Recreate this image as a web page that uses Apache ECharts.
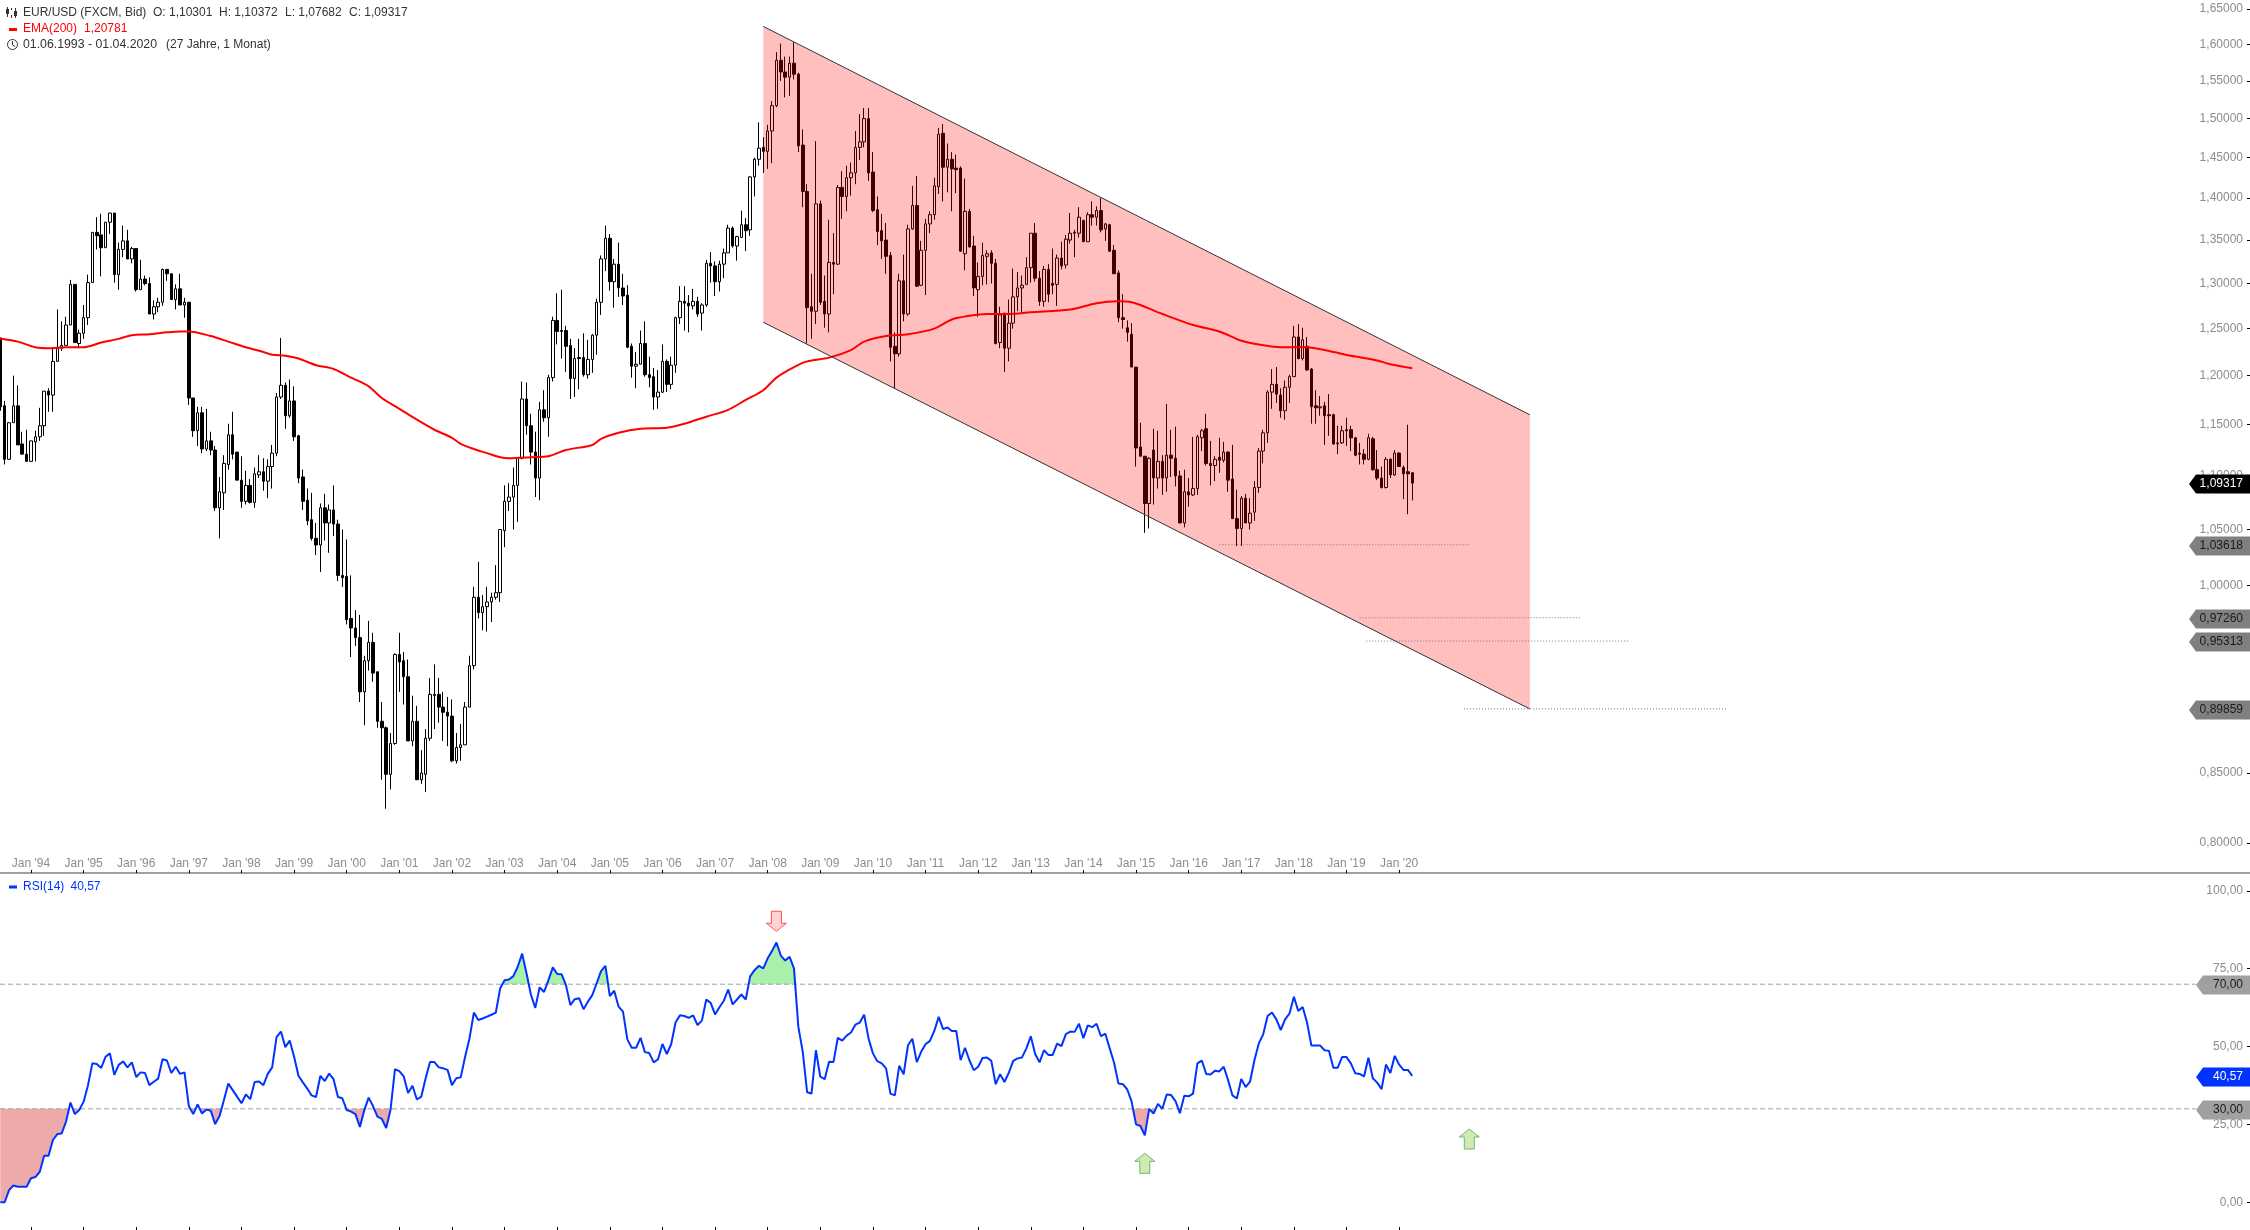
<!DOCTYPE html>
<html><head><meta charset="utf-8"><style>html,body{margin:0;background:#fff}#c{width:2250px;height:1230px}</style>
<script src="https://cdn.jsdelivr.net/npm/echarts@6/dist/echarts.min.js"></script></head><body><div id="c"></div>
<script>
// monthly candles [open, high, low, close], first row = Jun 1993
const candles1993to1999 = [
[1.240,1.240,1.164,1.168],[1.169,1.174,1.111,1.116],[1.116,1.152,1.116,1.152],[1.152,1.200,1.152,1.169],[1.169,1.190,1.130,1.130],[1.131,1.143,1.121,1.121],[1.121,1.145,1.114,1.114],
[1.114,1.134,1.114,1.134],[1.133,1.144,1.114,1.138],[1.138,1.167,1.134,1.149],[1.149,1.184,1.139,1.184],[1.184,1.187,1.163,1.180],[1.180,1.229,1.163,1.215],[1.215,1.271,1.215,1.229],[1.229,1.258,1.226,1.232],[1.232,1.263,1.232,1.254],[1.254,1.304,1.254,1.299],[1.299,1.299,1.235,1.235],[1.234,1.249,1.229,1.245],
[1.245,1.276,1.239,1.262],[1.262,1.310,1.254,1.301],[1.301,1.359,1.301,1.359],[1.359,1.377,1.339,1.355],[1.356,1.381,1.308,1.341],[1.341,1.371,1.341,1.371],[1.371,1.382,1.357,1.382],[1.382,1.382,1.301,1.310],[1.310,1.347,1.293,1.339],[1.339,1.367,1.330,1.349],[1.349,1.362,1.328,1.328],[1.328,1.342,1.323,1.340],[1.340,1.340,1.291,1.293],
[1.293,1.327,1.293,1.305],[1.305,1.309,1.298,1.300],[1.300,1.307,1.266,1.266],[1.266,1.281,1.260,1.274],[1.274,1.284,1.268,1.279],[1.279,1.317,1.275,1.316],[1.316,1.316,1.303,1.311],[1.311,1.311,1.282,1.282],[1.282,1.299,1.271,1.294],[1.294,1.311,1.276,1.276],[1.276,1.284,1.262,1.279],[1.279,1.279,1.170,1.177],
[1.177,1.177,1.138,1.144],[1.144,1.168,1.129,1.162],[1.162,1.168,1.122,1.126],[1.126,1.166,1.124,1.134],[1.134,1.143,1.120,1.125],[1.125,1.129,1.067,1.070],[1.070,1.099,1.042,1.085],[1.084,1.120,1.068,1.112],[1.111,1.151,1.106,1.140],[1.140,1.163,1.116,1.121],[1.123,1.123,1.096,1.096],[1.096,1.119,1.070,1.076],
[1.076,1.105,1.073,1.091],[1.091,1.097,1.074,1.075],[1.075,1.108,1.070,1.102],[1.101,1.120,1.098,1.104],[1.104,1.117,1.086,1.095],[1.095,1.116,1.079,1.109],[1.109,1.130,1.088,1.122],[1.122,1.182,1.119,1.178],[1.178,1.240,1.176,1.190],[1.190,1.193,1.146,1.159],[1.159,1.196,1.157,1.174],[1.174,1.189,1.134,1.138],
[1.139,1.140,1.093,1.098],[1.099,1.106,1.068,1.076],[1.077,1.088,1.054,1.058],[1.059,1.084,1.040,1.042],[1.042,1.056,1.027,1.036],[1.036,1.074,1.012,1.070],[1.070,1.083,1.040,1.056],[1.056,1.073,1.029,1.068],[1.068,1.091,1.044,1.055],[1.055,1.059,1.004,1.009],[1.009,1.050,0.999,1.007]];
const candles2000to2009 = [
[1.008,1.041,0.967,0.971],[0.972,1.009,0.940,0.964],[0.964,0.979,0.949,0.956],[0.956,0.975,0.904,0.912],[0.912,0.941,0.886,0.937],[0.937,0.970,0.929,0.952],[0.952,0.960,0.920,0.927],[0.928,0.928,0.884,0.889],[0.889,0.904,0.845,0.884],[0.884,0.885,0.824,0.849],[0.849,0.880,0.838,0.872],[0.872,0.943,0.871,0.942],
[0.942,0.960,0.912,0.936],[0.937,0.944,0.902,0.924],[0.924,0.938,0.874,0.874],[0.874,0.909,0.870,0.889],[0.889,0.901,0.845,0.845],[0.845,0.867,0.842,0.850],[0.849,0.883,0.836,0.876],[0.876,0.923,0.874,0.910],[0.909,0.934,0.883,0.910],[0.910,0.923,0.888,0.900],[0.900,0.912,0.874,0.896],[0.896,0.908,0.870,0.893],
[0.893,0.906,0.858,0.859],[0.859,0.880,0.857,0.869],[0.869,0.887,0.859,0.871],[0.871,0.904,0.871,0.900],[0.900,0.941,0.900,0.933],[0.933,0.999,0.930,0.990],[0.990,1.021,0.972,0.977],[0.977,0.992,0.962,0.982],[0.982,0.999,0.961,0.986],[0.986,0.994,0.969,0.990],[0.990,1.018,0.988,0.994],[0.994,1.050,0.986,1.050],
[1.049,1.091,1.034,1.076],[1.076,1.093,1.067,1.080],[1.080,1.108,1.050,1.091],[1.091,1.118,1.057,1.117],[1.117,1.194,1.116,1.176],[1.176,1.193,1.140,1.149],[1.149,1.161,1.111,1.123],[1.123,1.143,1.080,1.098],[1.098,1.173,1.077,1.165],[1.165,1.185,1.153,1.157],[1.157,1.201,1.138,1.198],[1.198,1.263,1.194,1.259],
[1.259,1.289,1.233,1.247],[1.248,1.293,1.218,1.247],[1.248,1.253,1.204,1.231],[1.232,1.239,1.176,1.197],[1.197,1.229,1.178,1.218],[1.219,1.239,1.186,1.218],[1.219,1.245,1.199,1.201],[1.201,1.238,1.197,1.217],[1.217,1.244,1.203,1.243],[1.243,1.283,1.222,1.279],[1.279,1.332,1.265,1.328],[1.328,1.367,1.314,1.352],
[1.352,1.357,1.292,1.302],[1.302,1.328,1.273,1.322],[1.322,1.347,1.285,1.295],[1.295,1.311,1.276,1.286],[1.287,1.298,1.229,1.230],[1.231,1.234,1.198,1.210],[1.210,1.225,1.187,1.212],[1.212,1.248,1.212,1.234],[1.234,1.258,1.199,1.201],[1.201,1.220,1.188,1.198],[1.199,1.208,1.165,1.178],[1.178,1.206,1.166,1.183],
[1.183,1.233,1.182,1.215],[1.215,1.217,1.183,1.191],[1.191,1.220,1.186,1.211],[1.211,1.263,1.203,1.262],[1.262,1.297,1.255,1.280],[1.280,1.297,1.248,1.278],[1.278,1.287,1.246,1.275],[1.275,1.294,1.271,1.280],[1.280,1.285,1.263,1.266],[1.267,1.278,1.248,1.276],[1.276,1.327,1.274,1.323],[1.323,1.336,1.301,1.320],
[1.320,1.325,1.286,1.302],[1.302,1.326,1.291,1.322],[1.322,1.340,1.306,1.335],[1.335,1.368,1.335,1.364],[1.364,1.366,1.341,1.343],[1.343,1.355,1.326,1.354],[1.353,1.385,1.353,1.368],[1.368,1.376,1.337,1.361],[1.362,1.427,1.355,1.426],[1.426,1.450,1.402,1.448],[1.448,1.495,1.440,1.462],[1.463,1.476,1.431,1.458],
[1.458,1.492,1.436,1.484],[1.484,1.523,1.443,1.517],[1.517,1.589,1.515,1.578],[1.578,1.601,1.550,1.562],[1.562,1.583,1.528,1.555],[1.555,1.583,1.530,1.574],[1.574,1.603,1.552,1.559],[1.559,1.561,1.457,1.465],[1.466,1.486,1.389,1.408],[1.408,1.417,1.234,1.273],[1.274,1.311,1.239,1.269],[1.269,1.471,1.255,1.393],
[1.393,1.397,1.276,1.279],[1.280,1.309,1.251,1.266],[1.266,1.374,1.246,1.324],[1.324,1.358,1.288,1.322],[1.322,1.416,1.321,1.413],[1.413,1.433,1.375,1.402],[1.402,1.440,1.384,1.425],[1.425,1.444,1.403,1.431],[1.431,1.484,1.417,1.463],[1.463,1.506,1.447,1.470],[1.470,1.514,1.463,1.500],[1.500,1.514,1.421,1.431]];
const candles2010to2020 = [
[1.432,1.457,1.383,1.385],[1.386,1.402,1.344,1.360],[1.361,1.381,1.328,1.349],[1.350,1.370,1.311,1.331],[1.332,1.336,1.215,1.230],[1.231,1.246,1.187,1.223],[1.223,1.311,1.220,1.303],[1.303,1.333,1.258,1.266],[1.266,1.368,1.264,1.363],[1.363,1.415,1.362,1.391],[1.391,1.427,1.296,1.297],[1.298,1.349,1.297,1.338],
[1.338,1.375,1.287,1.369],[1.369,1.384,1.358,1.380],[1.380,1.425,1.374,1.415],[1.414,1.488,1.405,1.480],[1.481,1.493,1.396,1.438],[1.438,1.468,1.407,1.448],[1.448,1.457,1.384,1.436],[1.437,1.454,1.406,1.435],[1.437,1.439,1.336,1.337],[1.334,1.424,1.315,1.384],[1.384,1.387,1.341,1.342],[1.343,1.355,1.286,1.295],
[1.293,1.324,1.263,1.308],[1.308,1.347,1.298,1.332],[1.331,1.338,1.299,1.334],[1.335,1.338,1.300,1.323],[1.323,1.328,1.233,1.234],[1.235,1.274,1.229,1.265],[1.267,1.267,1.204,1.229],[1.229,1.282,1.215,1.256],[1.256,1.317,1.250,1.285],[1.285,1.313,1.269,1.295],[1.295,1.309,1.267,1.298],[1.299,1.330,1.298,1.318],
[1.318,1.358,1.301,1.358],[1.358,1.370,1.302,1.306],[1.306,1.314,1.275,1.280],[1.280,1.320,1.274,1.316],[1.316,1.322,1.279,1.288],[1.300,1.340,1.288,1.298],[1.299,1.333,1.275,1.329],[1.329,1.348,1.316,1.320],[1.321,1.356,1.317,1.351],[1.350,1.382,1.346,1.358],[1.358,1.362,1.330,1.359],[1.358,1.389,1.353,1.377],
[1.373,1.374,1.348,1.348],[1.348,1.383,1.348,1.380],[1.380,1.396,1.367,1.377],[1.377,1.390,1.367,1.385],[1.385,1.400,1.359,1.362],[1.363,1.370,1.349,1.369],[1.368,1.369,1.336,1.337],[1.338,1.344,1.311,1.311],[1.312,1.315,1.257,1.262],[1.262,1.288,1.250,1.260],[1.251,1.259,1.236,1.246],[1.244,1.256,1.209,1.209],
[1.209,1.209,1.109,1.127],[1.128,1.152,1.119,1.119],[1.119,1.119,1.047,1.074],[1.074,1.118,1.051,1.117],[1.125,1.146,1.073,1.098],[1.098,1.144,1.088,1.114],[1.114,1.120,1.082,1.098],[1.098,1.171,1.085,1.120],[1.120,1.145,1.099,1.117],[1.117,1.148,1.090,1.100],[1.100,1.105,1.056,1.056],[1.056,1.106,1.052,1.085],
[1.085,1.098,1.071,1.082],[1.082,1.138,1.081,1.088],[1.088,1.140,1.082,1.138],[1.137,1.146,1.124,1.144],[1.146,1.161,1.110,1.112],[1.112,1.134,1.091,1.110],[1.110,1.119,1.095,1.116],[1.118,1.137,1.103,1.115],[1.115,1.133,1.113,1.123],[1.123,1.124,1.085,1.096],[1.097,1.130,1.060,1.060],[1.060,1.087,1.035,1.051],
[1.051,1.081,1.035,1.079],[1.079,1.083,1.056,1.056],[1.056,1.079,1.050,1.065],[1.066,1.095,1.058,1.089],[1.089,1.127,1.084,1.124],[1.124,1.145,1.112,1.142],[1.142,1.185,1.132,1.183],[1.183,1.207,1.166,1.191],[1.191,1.209,1.172,1.181],[1.180,1.187,1.157,1.164],[1.164,1.195,1.155,1.188],[1.188,1.201,1.172,1.199],
[1.199,1.253,1.199,1.241],[1.241,1.255,1.217,1.218],[1.218,1.251,1.216,1.238],[1.231,1.241,1.205,1.206],[1.207,1.208,1.151,1.168],[1.169,1.185,1.151,1.167],[1.167,1.179,1.159,1.168],[1.169,1.173,1.130,1.159],[1.160,1.181,1.139,1.159],[1.160,1.161,1.130,1.131],[1.132,1.149,1.121,1.131],[1.132,1.149,1.131,1.144],
[1.145,1.157,1.129,1.144],[1.145,1.149,1.124,1.137],[1.137,1.138,1.119,1.120],[1.122,1.132,1.111,1.121],[1.121,1.126,1.111,1.116],[1.116,1.141,1.115,1.137],[1.136,1.138,1.105,1.106],[1.106,1.125,1.096,1.098],[1.098,1.109,1.088,1.089],[1.089,1.118,1.088,1.116],[1.116,1.117,1.098,1.101],[1.101,1.125,1.100,1.122],
[1.122,1.123,1.109,1.109],[1.108,1.110,1.078,1.102],[1.104,1.150,1.064,1.102],[1.10301,1.10372,1.07682,1.09317]];

const emaMonths = [0,4,8,11,15,19,23,27,30,34,38,41,43,48,52,56,60,62,65,68,72,76,80,84,87,91,95,99,103,105,108,111,114,116,121,125,129,135,137,141,146,152,156,161,166,170,174,177,181,184,189,194,197,202,207,213,217,221,225,230,235,244,250,255,258,265,272,278,283,287,292,298,303,308,314,317,322];
const emaValues = [1.239,1.236,1.230,1.229,1.230,1.230,1.235,1.239,1.243,1.244,1.246,1.247,1.247,1.242,1.236,1.230,1.225,1.222,1.221,1.218,1.211,1.207,1.198,1.189,1.177,1.166,1.155,1.145,1.137,1.131,1.126,1.122,1.118,1.117,1.118,1.119,1.125,1.130,1.136,1.142,1.146,1.147,1.151,1.158,1.165,1.175,1.185,1.198,1.209,1.215,1.219,1.227,1.236,1.242,1.244,1.250,1.260,1.264,1.266,1.266,1.268,1.271,1.278,1.280,1.279,1.266,1.254,1.247,1.237,1.233,1.230,1.230,1.226,1.221,1.216,1.212,1.20781];

const rsiValues = [0,0,3.9,5.4,5,5,5,7.7,8.1,9.8,14.9,14.9,20,21.9,22.1,25.9,32,28.3,29.6,32.3,37.6,44.6,44.4,43.1,46.7,47.8,40.9,44.1,45.2,43.3,44.9,40.2,41.7,41.5,37.6,38.7,39.7,45.9,45.5,41.5,43.5,41.2,41.7,30.9,28.3,31.4,28.5,29.8,29.4,25.1,27.7,32.8,38.1,36,33.9,31.8,34.6,33.1,38.6,38.8,37.6,41.2,43.3,53,54.8,49.8,51.9,46.7,40.6,38.5,36.5,34.3,33.8,40.6,38.9,41.3,39.5,33.8,33.4,29.6,29.1,28.3,24.2,29.5,33.6,30.9,27.5,26.8,23.8,29.8,42.7,42.1,40.4,35.1,37.4,33,33.9,39.8,45,45,43.3,43,42.5,37.6,39.8,40.1,46.7,52.6,60.9,58.5,59,59.6,60.2,60.9,68.7,71.3,71.5,72.6,75.6,79.8,73.5,66.7,62.4,69,67.5,71.3,75.4,73.3,73.2,69.7,63.3,65.2,65.5,62,64.4,66.5,70.3,74.2,75.9,66.2,67.9,62.8,61.2,52.3,49.6,49.6,52.8,48.2,47.9,44.9,45.9,50.8,47.6,50.8,57.8,60,59.8,59.2,60,56.9,
58.3,65.1,64,60.3,62.6,64.7,68.3,63.5,65.1,66.7,65.1,72.5,74.5,75.9,75.1,78.3,80.7,83.4,79.2,77.6,78.8,75.1,56.3,48.3,35.3,34.9,48.8,40.3,39.5,45.1,45,52.8,51.9,53.5,54.5,57,57.7,60.2,52.6,47.8,45.3,44.6,43,34.9,34.3,43.8,41.1,50.4,52.5,45,48.3,50.7,51.8,55,59.5,55.6,56.1,55,55,45.6,49.6,45.6,42.4,43.5,46.3,46.5,45.4,37.9,41.1,38.6,41.6,45.4,46.2,46.5,49.4,53.3,47.6,44.9,48.8,47.3,47.3,50.9,50.1,54,54.8,54.7,57.3,52.7,56.8,56.2,57.3,53.3,54.1,49.4,44.8,38.1,37.9,36.2,32.3,25,24.5,21.5,30,28.5,31.6,30,34.6,34.4,32.5,28.6,34.2,34,34.9,44.6,45.5,41.2,41,42.2,42,43.5,39.2,34.3,33.3,39.6,37,38.7,45.6,51,53.9,59.8,60.9,58.7,55.3,58.7,60.6,66,61.4,62.7,57.7,50.3,50.3,50.3,48.8,48.6,43.2,43.2,46.6,46.6,44.6,41.4,41.2,40.4,46.4,39.8,38.4,36.3,44.2,41.5,47,44.2,42.5,42.5,40.57];

const januaryMonths = [7,19,31,43,55,67,79,91,103,115,127,139,151,163,175,187,199,211,223,235,247,259,271,283,295,307,319];
const januaryLabels = ["Jan '94","Jan '95","Jan '96","Jan '97","Jan '98","Jan '99","Jan '00","Jan '01","Jan '02","Jan '03","Jan '04","Jan '05","Jan '06","Jan '07","Jan '08","Jan '09","Jan '10","Jan '11","Jan '12","Jan '13","Jan '14","Jan '15","Jan '16","Jan '17","Jan '18","Jan '19","Jan '20"];
const priceTicks = [1.65,1.6,1.55,1.5,1.45,1.4,1.35,1.3,1.25,1.2,1.15,1.1,1.05,1,0.95,0.9,0.85,0.8];
const rsiTicks = [0,25,50,75,100];

const channelMonths = [174,348.8,348.8,174];
const channelPrices = [1.625,1.160,0.89859,1.257];
const levelPrices = [1.03618,0.9726,0.95313,0.89859];
const levelStarts = [278,310,311.5,333.8];
const levelEnds = [335.4,360.5,371.7,394];
const priceTags = [1.09317,1.03618,0.9726,0.95313,0.89859];
const rsiTags = [70,40.57,30];
const rsiLevels = [70,30];
const downArrows = [[177,90.2]];
const upArrows = [[261,12.5],[335,20.3]];

const candles = [...candles1993to1999,...candles2000to2009,...candles2010to2020];
const fmt = (v,d)=>v.toFixed(d).replace('.',',');
const GREY='#8c8c8c', FONT='"Liberation Sans",Arial,sans-serif', BLUE='#0033ff';
const X_MIN=-0.068, X_MAX=513.04;

// RSI area clipped against a level, with the crossing points added as break points
function clipped(level, keep){
  const out=[];
  rsiValues.forEach((v,i)=>{
    if(i>0){const p=rsiValues[i-1]; if((p-level)*(v-level)<0) out.push([i-1+(level-p)/(v-p),level]);}
    out.push([i,keep(v,level)]);
  });
  return out;
}
const thresholdLine=(data,color,xa,ya,type,z)=>({type:'line',xAxisIndex:xa,yAxisIndex:ya,data,symbol:'none',silent:true,z,lineStyle:{color,width:1,type},animation:false});

function tagSeries(values,xa,ya,tipX,bodyX,decimals,style){
  return {type:'custom',xAxisIndex:xa,yAxisIndex:ya,silent:true,clip:false,z:20,data:values.map(v=>[0,v]),
    renderItem(p,api){
      const v=api.value(1), y=Math.round(api.coord([0,v])[1])+1, s=style(v);
      return {type:'group',children:[
        {type:'polygon',shape:{points:[[tipX,y],[bodyX,y-9.5],[2250,y-9.5],[2250,y+9.5],[bodyX,y+9.5]]},style:{fill:s.bg}},
        {type:'text',style:{x:2243,y,text:fmt(v,decimals),align:'right',verticalAlign:'middle',font:'12px '+FONT,fill:s.fg}}
      ]};
    }};
}

const txt=(x,y,text,fill,size)=>({type:'text',x,y,silent:true,style:{text,fill:fill||'#333',font:(size||12)+'px '+FONT,verticalAlign:'middle'}});
const rect=(x,y,w,h,fill)=>({type:'rect',silent:true,shape:{x,y,width:w,height:h},style:{fill}});

const arrowUp='path://M10 0L20 8L15 8L15 20L5 20L5 8L0 8Z', arrowDown='path://M5 0L15 0L15 12L20 12L10 20L0 12L5 12Z';

const xBase=(i,labels)=>({type:'value',gridIndex:i,min:X_MIN,max:X_MAX,position:'bottom',splitLine:{show:false},
  axisLine:{show:labels,onZero:false,lineStyle:{color:'#808080',width:1.5}},
  axisTick:{show:true,inside:true,length:3,lineStyle:{color:'#000',width:1},customValues:januaryMonths},
  axisLabel:{show:labels,inside:true,margin:3,color:GREY,fontFamily:'"Liberation Sans"',fontSize:12,customValues:januaryMonths,
    formatter:v=>januaryLabels[januaryMonths.indexOf(v)]||''}});

const option={animation:false,backgroundColor:'#fff',
  grid:[{left:0,right:0,top:0,height:873},{left:0,right:0,top:873,height:357}],
  xAxis:[xBase(0,true),xBase(1,false)],
  yAxis:[
    {type:'log',gridIndex:0,position:'right',min:0.7793,max:1.6627,splitLine:{show:false},minorTick:{show:false},axisLine:{show:false,onZero:false},
      axisTick:{show:true,inside:true,length:3,lineStyle:{color:'#000'},customValues:priceTicks},
      axisLabel:{inside:true,margin:7,color:GREY,fontFamily:'"Liberation Sans"',fontSize:12,customValues:priceTicks,formatter:v=>fmt(+v,5)}},
    {type:'value',gridIndex:1,position:'right',min:-8.9,max:105.7,splitLine:{show:false},axisLine:{show:false,onZero:false},
      axisTick:{show:true,inside:true,length:3,lineStyle:{color:'#000'},customValues:rsiTicks},
      axisLabel:{inside:true,margin:7,color:GREY,fontFamily:'"Liberation Sans"',fontSize:12,customValues:rsiTicks,formatter:v=>fmt(+v,2)}}
  ],
  graphic:[
    rect(7,7,1,10,'#333'),rect(6,9,3,5,'#333'),rect(11,8,1,10,'#333'),rect(10,10,3,5,'#fff'),rect(15,8,1,10,'#333'),rect(14,11,3,5,'#333'),
    txt(23,12.5,'EUR/USD (FXCM, Bid)'),txt(153,12.5,'O: 1,10301'),txt(219,12.5,'H: 1,10372'),txt(285,12.5,'L: 1,07682'),txt(349,12.5,'C: 1,09317'),
    rect(9,28,8,3,'#ff0000'),txt(23,29,'EMA(200)','#ff0000'),txt(84,29,'1,20781','#ff0000'),
    {type:'circle',silent:true,shape:{cx:12.5,cy:44.5,r:5},style:{fill:'none',stroke:'#333',lineWidth:1}},
    {type:'polyline',silent:true,shape:{points:[[12.5,41],[12.5,45],[15,46.5]]},style:{fill:'none',stroke:'#333',lineWidth:1}},
    txt(23,44.5,'01.06.1993 - 01.04.2020',null,12.3),txt(166,44.5,'(27 Jahre, 1 Monat)'),
    rect(9,885.5,8,3,BLUE),txt(23,886.5,'RSI(14)',BLUE),txt(70.5,886.5,'40,57',BLUE)
  ],
  series:[
    {type:'candlestick',xAxisIndex:0,yAxisIndex:0,barWidth:3,z:2,silent:true,progressive:0,
      data:candles.map((r,i)=>[i,r[0],r[3],r[2],r[1]]),
      itemStyle:{color:'#fff',color0:'#000',borderColor:'#000',borderColor0:'#000',borderWidth:1}},
    {type:'line',xAxisIndex:0,yAxisIndex:0,z:3,symbol:'none',silent:true,smooth:0.3,data:emaMonths.map((m,i)=>[m,emaValues[i]]),lineStyle:{color:'#ff0000',width:2}},
    {type:'custom',xAxisIndex:0,yAxisIndex:0,z:5,silent:true,clip:false,data:channelMonths.map((m,i)=>[m,channelPrices[i]]),
      renderItem(p,api){
        if(p.dataIndex!==0) return null;
        const pts=channelMonths.map((m,i)=>api.coord([m,channelPrices[i]]));
        const ln=(a,b)=>({type:'line',shape:{x1:a[0],y1:a[1],x2:b[0],y2:b[1]},style:{stroke:'#333',lineWidth:1}});
        return {type:'group',children:[{type:'polygon',shape:{points:pts},style:{fill:'rgba(255,0,0,0.25)'}},ln(pts[0],pts[1]),ln(pts[3],pts[2])]};
      }},
    ...levelPrices.map((p,i)=>thresholdLine([[levelStarts[i],p],[levelEnds[i],p]],'#777777',0,0,[1,2],6)),
    tagSeries(priceTags,0,0,2189,2196,5,v=>v===1.09317?{bg:'#000',fg:'#fff'}:{bg:'#808080',fg:'#1a1a1a'}),
    {type:'line',xAxisIndex:1,yAxisIndex:1,z:3,symbol:'none',silent:true,data:clipped(30,Math.min),lineStyle:{width:0},areaStyle:{origin:30,color:'#eeaaaa',opacity:1}},
    {type:'line',xAxisIndex:1,yAxisIndex:1,z:3,symbol:'none',silent:true,data:clipped(70,Math.max),lineStyle:{width:0},areaStyle:{origin:70,color:'#aaf0aa',opacity:1}},
    ...rsiLevels.map(l=>thresholdLine([[X_MIN,l],[500.7,l]],'#a0a0a0',1,1,[5,3],4)),
    {type:'line',xAxisIndex:1,yAxisIndex:1,z:5,symbol:'none',silent:true,data:rsiValues.map((v,i)=>[i,v]),lineStyle:{color:BLUE,width:2}},
    {type:'scatter',xAxisIndex:1,yAxisIndex:1,z:6,silent:true,symbol:arrowDown,symbolSize:20,data:downArrows,itemStyle:{color:'#ffc8c8',borderColor:'#ff3030',borderWidth:1}},
    {type:'scatter',xAxisIndex:1,yAxisIndex:1,z:6,silent:true,symbol:arrowUp,symbolSize:20,data:upArrows,itemStyle:{color:'#c5e5a0',borderColor:'#55a855',borderWidth:1}},
    tagSeries(rsiTags,1,1,2196,2203,2,v=>v===40.57?{bg:BLUE,fg:'#fff'}:{bg:'#a0a0a0',fg:'#1a1a1a'})
  ]};
echarts.init(document.getElementById('c'),null,{renderer:'canvas'}).setOption(option);
</script></body></html>
